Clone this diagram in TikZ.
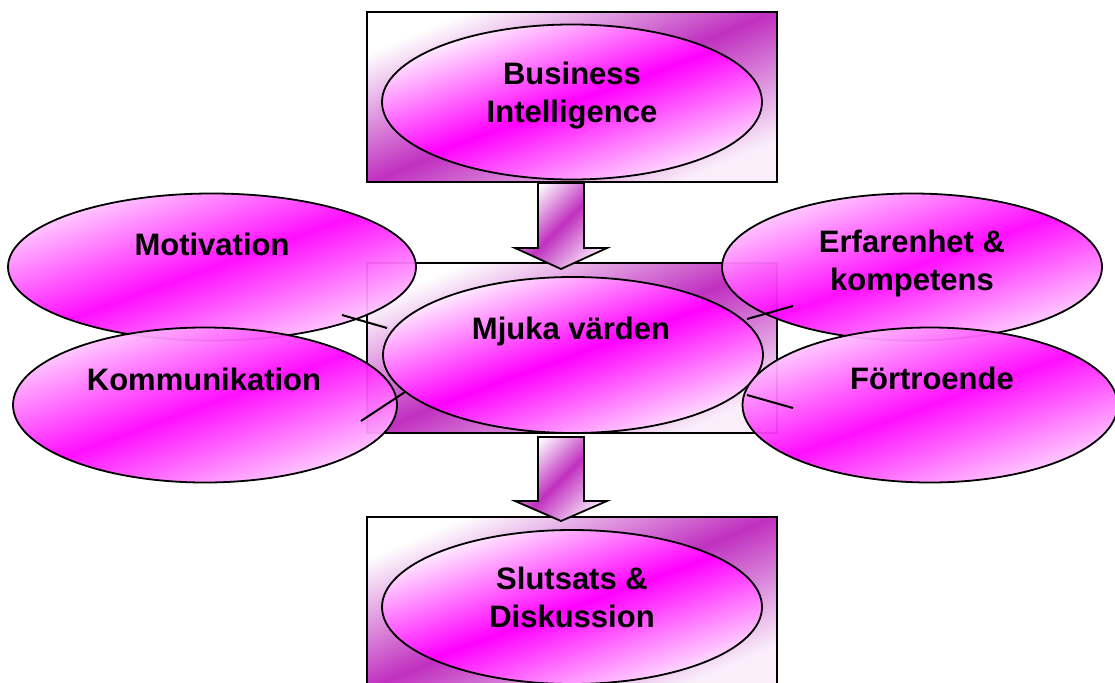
\documentclass[tikz,border=0pt]{standalone}
\usepackage{fontspec}
\setmainfont{Liberation Sans}
\usetikzlibrary{shapes.geometric}
\definecolor{boxpurple}{RGB}{192,48,192}
\definecolor{magbright}{RGB}{255,0,255}
\definecolor{edgepink}{RGB}{255,238,255}
\definecolor{sidepink}{RGB}{255,215,255}
\tikzset{
  boxst/.style={rectangle,draw=black,line width=2pt,inner sep=0pt,
    top color=white,bottom color=white!92!boxpurple,middle color=boxpurple,shading angle=23},
  ellst/.style={ellipse,draw=black,line width=1.8pt,inner sep=0pt,
    top color=white,bottom color=edgepink,middle color=magbright,shading angle=20},
  sideell/.style={ellipse,draw=black,line width=1.8pt,inner sep=0pt,fill opacity=0.94,
    top color=sidepink,bottom color=sidepink,middle color=magbright,shading angle=20},
  arrowst/.style={draw=black,line width=1.8pt,
    top color=white,bottom color=white!85!boxpurple,middle color=boxpurple,shading angle=45},
  lbl/.style={font=\fontsize{31}{38}\selectfont\bfseries,align=center,inner sep=0pt,anchor=base},
  conn/.style={draw=black,line width=2pt}
}
\begin{document}
\begin{tikzpicture}[x=1pt,y=1pt]
\useasboundingbox (0,0) rectangle (1115,-682);
\clip (0,0) rectangle (1115,-682);
\fill[white] (0,0) rectangle (1115,-682);
% top block
\node[boxst,minimum width=410pt,minimum height=170pt] (topbox) at (572,-97) {};
\node[ellst,minimum width=380pt,minimum height=155pt] (bi) at (572,-102) {};
% middle block
\node[boxst,minimum width=410pt,minimum height=170pt] (midbox) at (572,-348) {};
% top arrow
\coordinate (a1) at (538,-183);
\coordinate (a2) at (584,-183);
\coordinate (a3) at (584,-248);
\coordinate (a4) at (607,-248);
\coordinate (a5) at (561,-269);
\coordinate (a6) at (515,-248);
\coordinate (a7) at (538,-248);
\path[arrowst] (a1) -- (a2) -- (a3) -- (a4) -- (a5) -- (a6) -- (a7) -- cycle;
\node[ellst,minimum width=380pt,minimum height=156pt] (mv) at (573,-355) {};
% bottom block
\node[boxst,minimum width=410pt,minimum height=170pt] (botbox) at (572,-602) {};
\node[ellst,minimum width=380pt,minimum height=154pt] (sd) at (572,-607) {};
% bottom arrow
\coordinate (b1) at (538,-437);
\coordinate (b2) at (584,-437);
\coordinate (b3) at (584,-501);
\coordinate (b4) at (607,-501);
\coordinate (b5) at (561,-521);
\coordinate (b6) at (515,-501);
\coordinate (b7) at (538,-501);
\path[arrowst] (b1) -- (b2) -- (b3) -- (b4) -- (b5) -- (b6) -- (b7) -- cycle;
% side ellipses
\node[sideell,minimum width=408pt,minimum height=147pt] (mot) at (212,-267) {};
\node[sideell,minimum width=384pt,minimum height=155pt] (kom) at (205,-405) {};
\node[sideell,minimum width=380pt,minimum height=147pt] (erf) at (912,-267) {};
\node[sideell,minimum width=375pt,minimum height=155pt] (for) at (930,-405) {};
% connectors
\coordinate (cm1) at (342,-315); \coordinate (cm2) at (387,-328);
\coordinate (ck1) at (361,-421); \coordinate (ck2) at (405,-392);
\coordinate (ce1) at (793,-306); \coordinate (ce2) at (747,-319);
\coordinate (cf1) at (793,-408); \coordinate (cf2) at (747,-395);
\draw[conn] (cm1) -- (cm2);
\draw[conn] (ck1) -- (ck2);
\draw[conn] (ce1) -- (ce2);
\draw[conn] (cf1) -- (cf2);
% labels
\node[lbl] (tbi) at (572,-122) {Business\\Intelligence};
\node[lbl] (tmv) at (571,-339) {Mjuka värden};
\node[lbl] (tsd) at (572,-627) {Slutsats \&\\Diskussion};
\node[lbl] (tmot) at (212,-255) {Motivation};
\node[lbl] (tkom) at (204,-390) {Kommunikation};
\node[lbl] (terf) at (912,-290) {Erfarenhet \&\\kompetens};
\node[lbl] (tfor) at (932,-389) {Förtroende};
\end{tikzpicture}
\end{document}
